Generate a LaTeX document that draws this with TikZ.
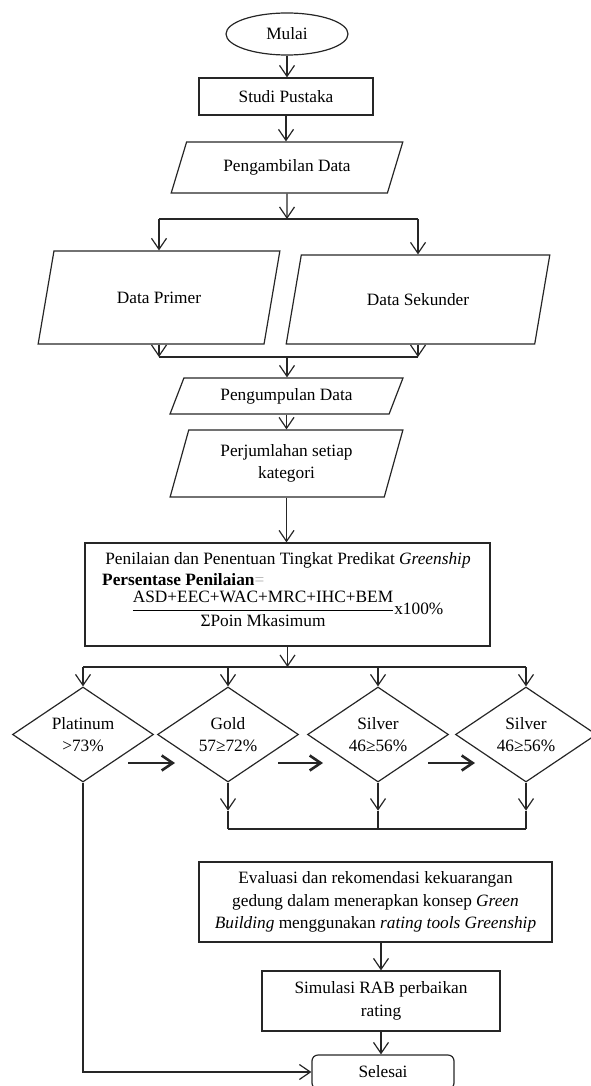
\documentclass[tikz,border=0pt]{standalone}
\usepackage{fontspec}
\setmainfont{Liberation Serif}
\usetikzlibrary{shapes.geometric}
\usetikzlibrary{arrows.meta}
\tikzset{
    base/.style={
        draw=black!85,      % warna garis
        line width=1.2pt,
        font=\fontsize{17.3pt}{22.7pt}\selectfont,
        align=center,
        inner sep=2pt
    },
    startbox/.style={base, ellipse},
    procbox/.style={base, rectangle},
    endbox/.style={base, rectangle, rounded corners=6pt},
    iobox/.style={base, trapezium, trapezium stretches=true},
    decbox/.style={base, diamond, aspect=1.5, inner sep=0pt},
    txt/.style={font=\fontsize{17.3pt}{22.7pt}\selectfont, inner sep=0pt},
    arr/.style={draw=black!85, line width=1.2pt, -{Straight Barb[length=11pt,width=15pt]}},
    lin/.style={draw=black!85, line width=1.2pt},
    fatarr/.style={draw=black!85, line width=2.6pt, -{Straight Barb[length=11pt,width=15pt]}}
}
\begin{document}
\begin{tikzpicture}[x=1pt, y=-1pt]
\useasboundingbox (0,0) rectangle (591,1086);

% bagian atas
\node[startbox, minimum width=122pt, minimum height=42pt] (mulai) at (287,34) {Mulai};
\node[procbox, minimum width=174pt, minimum height=37pt] (studi) at (286,96.5) {Studi Pustaka};
\node[iobox, trapezium left angle=63, trapezium right angle=117,
      minimum width=232pt, minimum height=51pt] (ambil) at (287,167.5) {Pengambilan Data};
\node[iobox, trapezium left angle=67, trapezium right angle=113,
      minimum width=242pt, minimum height=93pt] (primer) at (159,297.5) {Data Primer};
\node[iobox, trapezium left angle=67, trapezium right angle=113,
      minimum width=264pt, minimum height=89pt] (sekunder) at (418,299.5) {Data Sekunder};
\node[iobox, trapezium left angle=65, trapezium right angle=115,
      minimum width=233pt, minimum height=36pt] (kumpul) at (286.5,396) {Pengumpulan Data};
\node[iobox, trapezium left angle=73, trapezium right angle=107,
      minimum width=233pt, minimum height=67pt] (jumlah) at (286.5,463.5) {Perjumlahan setiap\\kategori};

\draw[arr] (mulai.south) -- (mulai.south |- studi.north);
\draw[arr] (studi.south) -- (studi.south |- ambil.north);

% cabang data
\coordinate (sp1) at (287,219);
\draw[arr] (ambil.south) -- (sp1);
\draw[lin] (primer.north |- sp1) -- (sekunder.north |- sp1);
\draw[arr] (primer.north |- sp1) -- (primer.north);
\draw[arr] (sekunder.north |- sp1) -- (sekunder.north);

\coordinate (mg1) at (287,357);
\draw[arr] (primer.south) -- (primer.south |- mg1);
\draw[arr] (sekunder.south) -- (sekunder.south |- mg1);
\draw[lin] (primer.south |- mg1) -- (sekunder.south |- mg1);
\draw[arr] (mg1) -- (mg1 |- kumpul.north);
\draw[arr] (kumpul.south) -- (kumpul.south |- jumlah.north);

% penilaian
\node[procbox, minimum width=405pt, minimum height=103pt] (nilai) at (287.5,594.5) {};
\node[txt] (nilaiA) at (288,560) {Penilaian dan Penentuan Tingkat Predikat \textit{Greenship}};
\node[txt, anchor=west] (nilaiB) at (102,580) {\textbf{Persentase Penilaian}\textcolor{black!30}{=}};
\node[txt] (nilaiC) at (287.5,609)
    {$\displaystyle\frac{\mbox{ASD+EEC+WAC+MRC+IHC+BEM}}{\mbox{ΣPoin Mkasimum}}$x100\%};
\draw[arr] (jumlah.south) -- (jumlah.south |- nilai.north);

% predikat
\foreach \nm/\cx/\ta/\tb in {plat/83/Platinum/{>73\%}, gold/228/Gold/{57≥72\%},
                             silv/378/Silver/{46≥56\%}, silvb/526/Silver/{46≥56\%}}
    \node[decbox, minimum width=141pt, minimum height=95pt] (\nm) at (\cx,734.5) {\ta\\\tb};

\coordinate (sp2) at (287.5,667);
\draw[arr] (nilai.south) -- (sp2);
\draw[lin] (plat.north |- sp2) -- (silvb.north |- sp2);
\foreach \nm in {plat,gold,silv,silvb}
    \draw[arr] (\nm.north |- sp2) -- (\nm.north);

\foreach \i/\xa/\xb in {1/128/175, 2/278/323, 3/428/475} {
    \coordinate (fa\i) at (\xa,763);
    \coordinate (fb\i) at (\xb,763);
    \draw[fatarr] (fa\i) -- (fb\i);
}

\coordinate (mg2) at (378,829);
\foreach \nm in {gold,silv,silvb} {
    \draw[arr] (\nm.south) -- ++(0,28) coordinate (\nm-tip);
    \draw[lin] (\nm-tip) -- (\nm.south |- mg2);
}
\draw[lin] (gold.south |- mg2) -- (silvb.south |- mg2);

% evaluasi dan akhir
\node[procbox, minimum width=353pt, minimum height=80pt] (eval) at (375.5,902)
    {Evaluasi dan rekomendasi kekuarangan\\gedung dalam menerapkan konsep \textit{Green}\\\textit{Building} menggunakan \textit{rating tools Greenship}};
\node[procbox, minimum width=238pt, minimum height=60pt] (simul) at (381,1001) {Simulasi RAB perbaikan\\rating};
\node[endbox, minimum width=142pt, minimum height=34pt] (selesai) at (383,1072) {Selesai};

\draw[arr] (simul.north |- eval.south) -- (simul.north);
\draw[arr] (simul.south) -- (simul.south |- selesai.north);
\draw[arr] (plat.south) |- (selesai.west);

\end{tikzpicture}
\end{document}
